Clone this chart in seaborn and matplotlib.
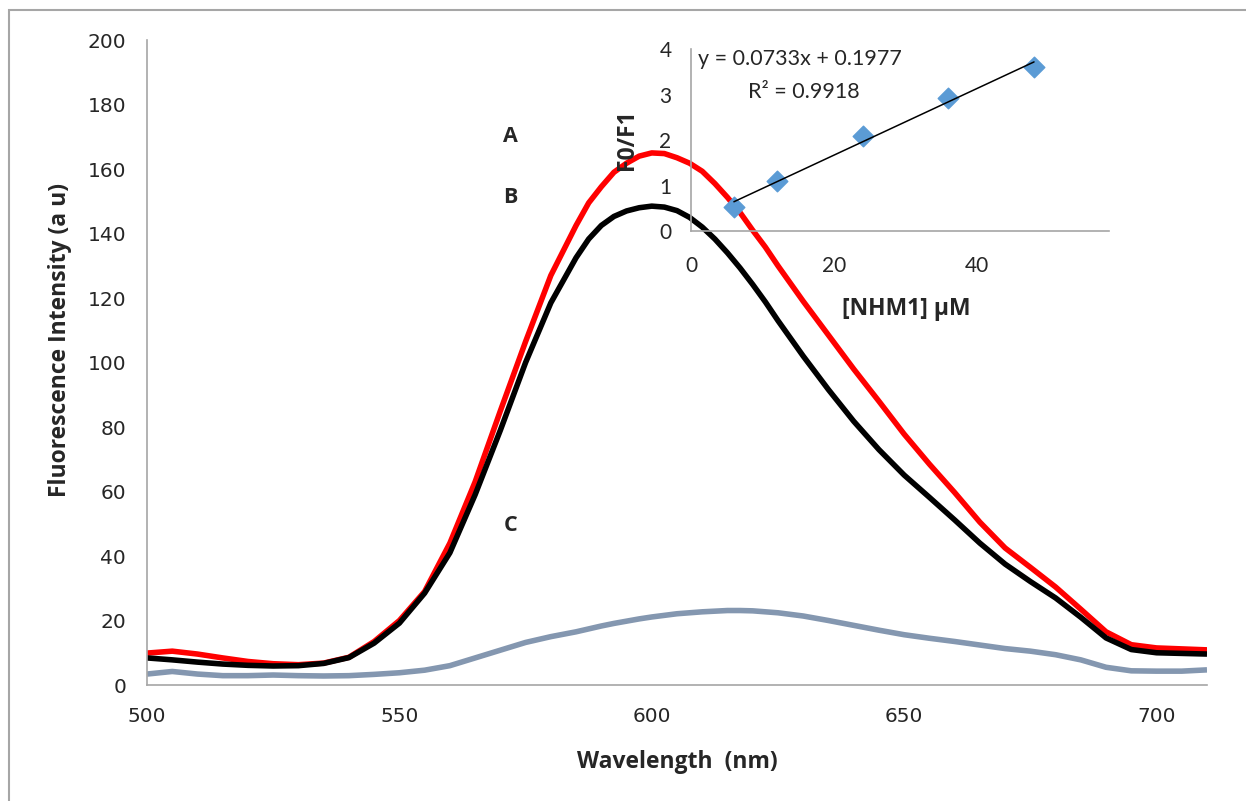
import matplotlib
matplotlib.use("Agg")
import matplotlib.pyplot as plt
from matplotlib.patches import Rectangle
import seaborn as sns

# emission spectra
wavelength = [500, 505, 510, 515, 520, 525, 530, 535, 540, 545, 550, 555, 560, 565, 570,
              575, 580, 585, 587.5, 590, 592.5, 595, 597.5, 600, 602.5, 605, 607.5, 610, 612.5,
              615, 617.5, 620, 622.5, 625, 630, 635, 640, 645,
              650, 655, 660, 665, 670, 675, 680, 685, 690, 695, 700, 705, 710]
curve_a = [9.9, 10.5, 9.6, 8.4, 7.3, 6.6, 6.3, 6.8, 8.6, 13.5, 20, 29, 44, 63, 85,
           106.5, 127, 142.5, 149.5, 154.5, 159, 161.8, 164, 165, 164.8, 163.5, 161.8, 159.3, 155.5,
           151.2, 146.5, 141, 135.8, 130, 119, 108.5, 98, 88,
           77.8, 68.5, 59.7, 50.5, 42.5, 36.5, 30.4, 23.5, 16.5, 12.5, 11.5, 11.2, 10.9]
curve_b = [8.4, 7.8, 7.1, 6.5, 6.1, 5.9, 6.0, 6.7, 8.5, 13, 19.2, 28.5, 41, 59, 79,
           100, 118.5, 132.5, 138.3, 142.5, 145.3, 147, 148, 148.5, 148.2, 147.1, 145, 142, 138.3,
           134, 129.3, 124.2, 118.8, 113, 102, 91.6, 81.8, 73,
           65.1, 58.2, 51.2, 44, 37.5, 32.1, 27, 21, 14.6, 11, 10, 9.8, 9.6]
curve_c = [3.4, 4.2, 3.4, 2.9, 2.9, 3.1, 2.9, 2.8, 2.9, 3.3, 3.8, 4.6, 6.0, 8.4, 10.8,
           13.2, 15.0, 16.5, 17.4, 18.3, 19.1, 19.8, 20.5, 21.1, 21.6, 22.1, 22.4, 22.7, 22.9,
           23.1, 23.1, 23.0, 22.7, 22.4, 21.4, 20.0, 18.5, 17.0,
           15.6, 14.5, 13.5, 12.4, 11.3, 10.5, 9.4, 7.8, 5.5, 4.4, 4.3, 4.3, 4.7]

# Stern-Volmer inset
conc = [6, 12, 24, 36, 48]
f0_f1 = [0.53, 1.1, 2.09, 2.92, 3.6]

sns.set_style("white")
plt.rcParams["font.family"] = ["DejaVu Sans"]
bold_font = {"family": "Open Sans", "weight": "bold"}

fig = plt.figure(figsize=(12.46, 8.01), dpi=100)
ax = fig.add_axes([0.118, 0.1448, 0.8507, 0.8052])

line_style = dict(lw=4, solid_joinstyle="round", solid_capstyle="butt")
sns.lineplot(x=wavelength, y=curve_c, color="#8497B0", ax=ax, **line_style)
sns.lineplot(x=wavelength, y=curve_a, color="#FF0000", ax=ax, **line_style)
sns.lineplot(x=wavelength, y=curve_b, color="#000000", ax=ax, **line_style)

ax.set_xlim(500, 710)
ax.set_ylim(0, 200)
ax.set_xticks([500, 550, 600, 650, 700])
ax.set_yticks(range(0, 201, 20))
for s in ["top", "right"]:
    ax.spines[s].set_visible(False)
for s in ["left", "bottom"]:
    ax.spines[s].set_color("#A6A6A6")
    ax.spines[s].set_linewidth(1.2)
ax.tick_params(axis="both", direction="out", length=7, width=1.2, color="#A6A6A6",
               labelsize=14.5, pad=8)
ax.tick_params(axis="x", pad=9)
ax.set_xlabel("Wavelength  (nm)", fontsize=16.5, **bold_font)
ax.set_ylabel("Fluorescence Intensity (a u)", fontsize=16.5, **bold_font)
ax.xaxis.set_label_coords(0.5, -0.101)
ax.yaxis.set_label_coords(-0.071, 0.535)

for lbl, yv in [("A", 170), ("B", 151.3), ("C", 49.6)]:
    ax.text(572, yv, lbl, fontsize=15.5, ha="center", va="center", **bold_font)

# inset
axi = fig.add_axes([0.5546, 0.7116, 0.3355, 0.2272])
axi.patch.set_alpha(0)
sns.regplot(x=conc, y=f0_f1, ci=None, marker="D", ax=axi,
            scatter_kws={"s": 110, "color": "#5B9BD5", "alpha": 1, "zorder": 3},
            line_kws={"color": "black", "lw": 1.1, "zorder": 4})
axi.set_xlim(0, 58.5)
axi.set_ylim(0, 4)
axi.set_xticks([0, 20, 40])
axi.set_yticks([0, 1, 2, 3, 4])
for s in ["top", "right"]:
    axi.spines[s].set_visible(False)
for s in ["left", "bottom"]:
    axi.spines[s].set_color("#A6A6A6")
    axi.spines[s].set_linewidth(1.2)
axi.tick_params(axis="both", direction="out", length=6, width=1.2, color="#A6A6A6",
                labelsize=15, labelfontfamily="Lato")
axi.tick_params(axis="x", pad=12)
axi.tick_params(axis="y", pad=8)
axi.set_xlabel("[NHM1] μM", fontsize=16.5, **bold_font)
axi.set_ylabel("F0/F1", fontsize=16.5, **bold_font)
axi.xaxis.set_label_coords(0.516, -0.36)
axi.yaxis.set_label_coords(-0.125, 0.5)
axi.text(1.0, 3.78, "y = 0.0733x + 0.1977", fontsize=15.5, family="Lato", va="center")
axi.text(8.0, 3.05, "R² = 0.9918", fontsize=15.5, family="Lato", va="center")

# chart border
fig.add_artist(Rectangle((9 / 1246, -0.1), 1.2, 1 - 10 / 801 + 0.1,
                         transform=fig.transFigure, fill=False,
                         edgecolor="#A6A6A6", lw=1.5))

fig.savefig("out.png", dpi=100)
